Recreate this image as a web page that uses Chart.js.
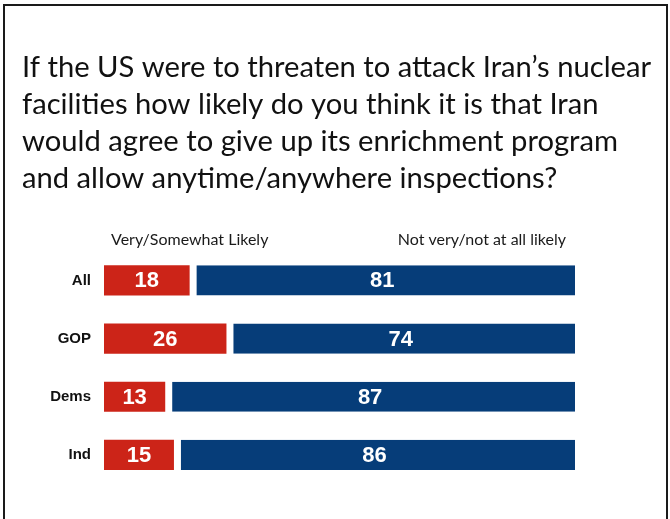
<!DOCTYPE html>
<html>
<head>
<meta charset="utf-8">
<script src="https://cdn.jsdelivr.net/npm/chart.js@4/dist/chart.umd.min.js"></script>
<style>
  body { margin: 0; background: #fff; }
  #wrap { position: absolute; left: 0; top: 0; width: 670px; height: 519px; }
  #frame { position: absolute; left: 3px; top: 4px; width: 661px; height: 600px; border: 2px solid #1a1a1a; pointer-events: none; }
</style>
</head>
<body>
<div id="wrap"><canvas id="grafbarras"></canvas></div>
<div id="frame"></div>
<script>
var titulo = [
    "If the US were to threaten to attack Iran\u2019s nuclear",
    "facilities how likely do you think it is that Iran",
    "would agree to give up its enrichment program",
    "and allow anytime/anywhere inspections?"
];
var grupos = ["All", "GOP", "Dems", "Ind"];
var series = ["Very/Somewhat Likely", "Not very/not at all likely"];
var probable = [18, 26, 13, 15];
var noProbable = [81, 74, 87, 86];

// each row is drawn as 100% of the responses
var rojo = [];
var azul = [];
for (var i in grupos){
    var corte = probable[i] / (probable[i] + noProbable[i]) * 100;
    rojo.push([0, corte]);
    azul.push([corte, 100]);
}

// series names above the bars
var nombresSeries = {
    id: "nombresSeries",
    afterDraw: function(chart){
        var ctx = chart.ctx, area = chart.chartArea;
        ctx.save();
        ctx.font = "16px Lato";
        ctx.fillStyle = "#1a1a1a";
        ctx.textBaseline = "middle";
        ctx.textAlign = "left";
        ctx.fillText(chart.data.datasets[0].label, area.left + 7, area.top - 11);
        ctx.textAlign = "right";
        ctx.fillText(chart.data.datasets[1].label, area.right - 9, area.top - 11);
        ctx.restore();
    }
};

// values inside the bars
var valores = {
    id: "valores",
    afterDatasetsDraw: function(chart){
        var ctx = chart.ctx;
        var fuentes = [probable, noProbable];
        ctx.save();
        ctx.font = "bold 22px 'Liberation Sans', Arial";
        ctx.fillStyle = "#fff";
        ctx.textAlign = "center";
        ctx.textBaseline = "middle";
        chart.data.datasets.forEach(function(ds, d){
            chart.getDatasetMeta(d).data.forEach(function(bar, j){
                ctx.fillText(fuentes[d][j], (bar.x + bar.base) / 2, bar.y + 1);
            });
        });
        ctx.restore();
    }
};

var grafico = new Chart(document.getElementById("grafbarras"), {
    type: "bar",
    data: {
        labels: grupos,
        datasets: [
            {
                label: series[0],
                data: rojo,
                backgroundColor: "#cc2418",
                borderWidth: 0,
                barPercentage: 0.52,
                categoryPercentage: 1
            },
            {
                label: series[1],
                data: azul,
                backgroundColor: "#063d79",
                borderColor: "#fff",
                borderWidth: { left: 7, right: 0, top: 0, bottom: 0 },
                borderSkipped: false,
                barPercentage: 0.52,
                categoryPercentage: 1
            }
        ]
    },
    options: {
        indexAxis: "y",
        responsive: true,
        maintainAspectRatio: false,
        animation: false,
        layout: { padding: { left: 22, right: 0, bottom: 35 } },
        scales: {
            x: { display: false, min: 0, max: 100 },
            y: {
                stacked: true,
                grid: { display: false, drawTicks: false },
                border: { display: false },
                ticks: {
                    color: "#111",
                    padding: 13,
                    font: { family: "'Liberation Sans', Arial", size: 15, weight: "bold" }
                },
                afterFit: function(axis){ axis.width = 82; }
            },
            // empty space on the right of the bars
            derecha: {
                axis: "y",
                type: "category",
                position: "right",
                grid: { display: false, drawTicks: false },
                border: { display: false },
                ticks: { display: false },
                afterFit: function(axis){ axis.width = 95; }
            }
        },
        plugins: {
            legend: { display: false },
            tooltip: { enabled: false },
            title: {
                display: true,
                text: titulo,
                align: "start",
                color: "#111",
                font: { family: "Lato", size: 29.2, weight: "normal", lineHeight: 1.27 },
                padding: { top: 49, bottom: 54 }
            }
        }
    },
    plugins: [nombresSeries, valores]
});
</script>
</body>
</html>
